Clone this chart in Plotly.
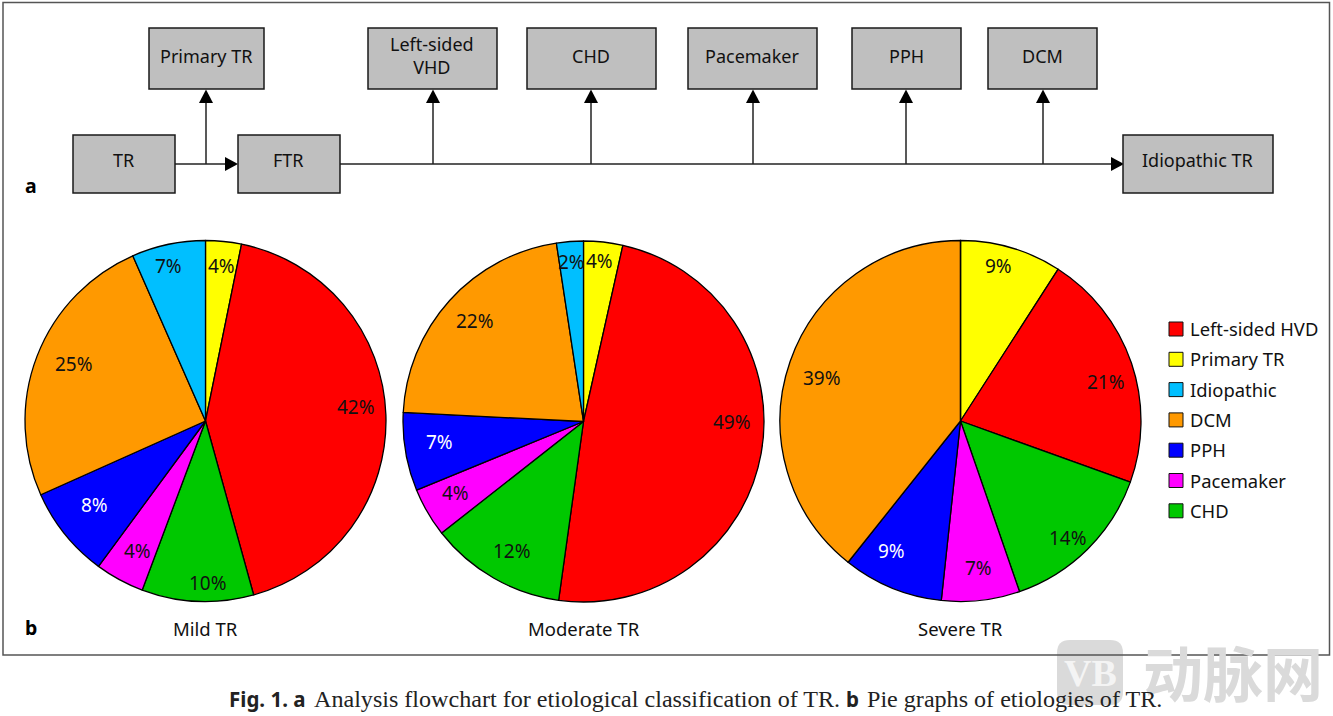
import plotly.graph_objects as go

### Chart data
slice_names = ['Primary TR', 'Left-sided HVD', 'CHD', 'Pacemaker', 'PPH', 'DCM', 'Idiopathic']
mild_values = [3.2, 42.5, 10.0, 4.4, 8.2, 25.1, 6.6]
moderate_values = [3.5, 48.7, 12.2, 4.4, 7.0, 21.8, 2.4]
severe_values = [9.1, 21.4, 14.2, 7.0, 9.0, 39.3, 0]
mild_labels = ['4%', '42%', '10%', '4%', '8%', '25%', '7%']
moderate_labels = ['4%', '49%', '12%', '4%', '7%', '22%', '2%']
severe_labels = ['9%', '21%', '14%', '7%', '9%', '39%', '']
pie_titles = ['Mild TR', 'Moderate TR', 'Severe TR']
legend_names = ['Left-sided HVD', 'Primary TR', 'Idiopathic', 'DCM', 'PPH', 'Pacemaker', 'CHD']

### Styles and page positions (pixels on a 1333x716 canvas)
W, H = 1333, 716
SANS = 'Noto Sans'
SERIF = 'Liberation Serif'
colors = {'Primary TR': '#FFFF00', 'Left-sided HVD': '#FF0000', 'CHD': '#00C800', 'Pacemaker': '#FF00FF',
          'PPH': '#0000FF', 'DCM': '#FF9900', 'Idiopathic': '#00BFFF'}
pie_boxes = [(25, 386, 240.5, 601.5), (403, 764, 241, 602), (780, 1141, 240.5, 601.5)]
mild_pos = [(221, 266), (356, 407), (208, 583), (137, 551), (94, 505), (74, 364), (168, 266)]
moderate_pos = [(599, 261), (732, 422), (512, 551), (455, 493), (439, 442), (475, 321), (571, 262)]
severe_pos = [(998, 266), (1106, 382), (1068, 538), (978, 568), (891, 551), (822, 378), (0, 0)]

boxes = [('Primary TR', 149, 264, 28, 89), ('Left-sided<br>VHD', 368, 497, 28, 89), ('CHD', 527, 656, 28, 89),
         ('Pacemaker', 688, 817, 28, 89), ('PPH', 852, 961, 28, 89), ('DCM', 988, 1097, 28, 89),
         ('TR', 73, 175, 135, 193), ('FTR', 238, 340, 135, 193), ('Idiopathic TR', 1123, 1273, 135, 193)]
up_arrows = [206, 433, 591, 753, 906, 1043]
MAIN_Y = 164

fig = go.Figure()
shapes = []
notes = []


def add_text(x, y, text, size=18, color='#111111', font=SANS, anchor='center'):
    notes.append(dict(x=x, y=y, text=text, showarrow=False, xanchor=anchor, yanchor='middle',
                      font=dict(family=font, size=size, color=color)))


def line(x0, y0, x1, y1, color='#222222', width=1.5):
    shapes.append(dict(type='line', x0=x0, y0=y0, x1=x1, y1=y1, line=dict(color=color, width=width)))


def triangle(points):
    path = 'M ' + ' L '.join(f'{a},{b}' for a, b in points) + ' Z'
    shapes.append(dict(type='path', path=path, fillcolor='black', line=dict(color='black', width=0)))


### Watermark sits under everything else
shapes.append(dict(type='path', fillcolor='#DADADA', line=dict(width=0), layer='below',
                   path='M 1070,640 L 1110,640 Q 1123,640 1123,653 L 1123,692 Q 1123,705 1110,705 '
                        'L 1070,705 Q 1057,705 1057,692 L 1057,653 Q 1057,640 1070,640 Z'))
add_text(1090, 673, '<b>VB</b>', size=38, color='#F4F4F4', font=SERIF)
add_text(1233, 670, '<b>动脉网</b>', size=60, color='#DADADA', font='Noto Sans CJK SC')

### Frame
shapes.append(dict(type='rect', x0=3, y0=2.5, x1=1329.5, y1=655, line=dict(color='#555555', width=1.5)))

### Flowchart
line(175, MAIN_Y, 226, MAIN_Y)
line(340, MAIN_Y, 1112, MAIN_Y)
triangle([(238, MAIN_Y), (225, MAIN_Y - 7), (225, MAIN_Y + 7)])
triangle([(1124, MAIN_Y), (1111, MAIN_Y - 7), (1111, MAIN_Y + 7)])
for x in up_arrows:
    line(x, MAIN_Y, x, 100)
    triangle([(x, 89.5), (x - 7, 103), (x + 7, 103)])
for text, x0, x1, y0, y1 in boxes:
    shapes.append(dict(type='rect', x0=x0, x1=x1, y0=y0, y1=y1, fillcolor='#BFBFBF',
                       line=dict(color='#1A1A1A', width=1.5)))
    lift = 3 if y0 == 28 else 4
    add_text((x0 + x1) / 2 - 0.5, (y0 + y1) / 2 - lift, text)
add_text(31, 185, '<b>a</b>', size=19.5, color='black')
add_text(31, 627, '<b>b</b>', size=19.5, color='black')

### Pies
pie_rows = [(mild_values, mild_labels, mild_pos), (moderate_values, moderate_labels, moderate_pos),
            (severe_values, severe_labels, severe_pos)]
for (values, labels, pos), box, title in zip(pie_rows, pie_boxes, pie_titles):
    x0, x1, y0, y1 = box
    fig.add_trace(go.Pie(labels=slice_names, values=values, sort=False, direction='clockwise', rotation=0,
                         textinfo='none', hoverinfo='label+percent', showlegend=False,
                         marker=dict(colors=[colors[n] for n in slice_names], line=dict(color='black', width=1.3)),
                         domain=dict(x=[x0 / W, x1 / W], y=[1 - y1 / H, 1 - y0 / H])))
    for name, label, (px, py) in zip(slice_names, labels, pos):
        if label:
            add_text(px, py, label, size=19, color='white' if name == 'PPH' else '#111111')
    add_text((x0 + x1) / 2, 628, title, size=18.5)

### Legend drawn as square markers with text beside them
legend_y = [329 + 30.3 * i for i in range(len(legend_names))]
fig.add_trace(go.Scatter(x=[1176] * len(legend_names), y=legend_y, mode='markers',
                         marker=dict(symbol='square', size=14, color=[colors[n] for n in legend_names],
                                     line=dict(color='#111111', width=1)),
                         showlegend=False, cliponaxis=False, hoverinfo='skip'))
for name, y in zip(legend_names, legend_y):
    add_text(1188, y - 0.5, name, size=18.4, anchor='left')

### Caption
add_text(227, 699, '<b>Fig. 1. a</b>', size=20.5, color='#222222', anchor='left')
add_text(312, 699, 'Analysis flowchart for etiological classification of TR.', size=24.1, color='#222222',
         font=SERIF, anchor='left')
add_text(844, 699, '<b>b</b>', size=20.5, color='#222222', anchor='left')
add_text(865, 699, 'Pie graphs of etiologies of TR.', size=24.1, color='#222222', font=SERIF, anchor='left')

fig.update_layout(width=W, height=H, margin=dict(l=0, r=0, t=0, b=0), paper_bgcolor='white', plot_bgcolor='rgba(0,0,0,0)',
                  xaxis=dict(range=[0, W], visible=False, fixedrange=True),
                  yaxis=dict(range=[H, 0], visible=False, fixedrange=True),
                  shapes=shapes, annotations=notes)
fig.write_html('out.html', config=dict(displayModeBar=False),
               post_script="document.body.style.margin='0';document.body.style.overflow='hidden';")
